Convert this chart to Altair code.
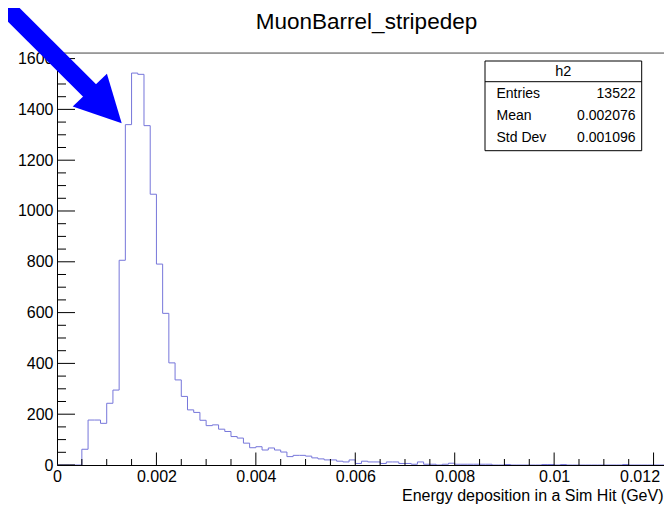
import altair as alt
import pandas as pd

FONT = "Liberation Sans, Arial, Helvetica, sans-serif"

# ---- data ----
bin_width = 0.000125
counts = [
    0, 0, 0, 0, 62, 177, 177, 164, 243, 295,            # 0-9
    806, 1340, 1543, 1538, 1336, 1066, 791, 597, 402, 335,  # 10-19
    270, 217, 207, 176, 155, 158, 141, 132, 112, 106,   # 20-29
    86, 68, 72, 59, 67, 59, 51, 33, 38, 38,             # 30-39
    35, 28, 24, 20, 20, 15, 12, 20, 6, 15,              # 40-49
    12, 12, 6, 12, 12, 6, 6, 3, 12, 3,                  # 50-59
    3, 0, 3, 7, 3, 3, 3, 3, 3, 3,                       # 60-69
    0, 0, 2, 0, 0, 0, 0, 0, 2, 2,                       # 70-79
    0, 2, 0, 0, 0, 0, 0, 0, 0, 0,                       # 80-89
    0, 2, 0, 0, 0, 0, 0, 0, 0, 0,                       # 90-99
]
x_tick_values = [0, 0.002, 0.004, 0.006, 0.008, 0.01, 0.012]
y_tick_values = [0, 200, 400, 600, 800, 1000, 1200, 1400, 1600]
x_minor_values = [0.0005, 0.001, 0.0015, 0.0025, 0.003, 0.0035, 0.0045, 0.005, 0.0055,
                  0.0065, 0.007, 0.0075, 0.0085, 0.009, 0.0095, 0.0105, 0.011, 0.0115]
y_minor_values = [v for v in range(50, 1601, 50) if v % 200]

title_text = "MuonBarrel_stripedep"
x_title = "Energy deposition in a Sim Hit (GeV)"
stats_name = "h2"
stat_labels = ["Entries", "Mean", "Std Dev"]
stat_values = ["13522", "0.002076", "0.001096"]

# arrow annotation (data units)
arrow_x = [-0.00135, 0.000744]
arrow_y = [1866, 1457]
arrow_head_x = [0.00066]
arrow_head_y = [1476]

# ---- layout ----
W, H = 607, 412
xscale = alt.Scale(domain=[0, 0.01221], nice=False, zero=False)
yscale = alt.Scale(domain=[0, 1622], nice=False, zero=False)

edges = [i * bin_width for i in range(len(counts) + 1)]
hist_df = pd.DataFrame({"x": edges, "y": counts + [counts[-1]]})

last_label = "datum.value > 0.0119"
x_axis = alt.Axis(values=x_tick_values, format="~g", labelFontSize=16, labelFont=FONT,
                  labelColor="black", labelPadding=3, labelBaseline="top", ticks=False,
                  labelAlign={"condition": {"test": last_label, "value": "right"}, "value": "center"},
                  labelOffset={"condition": {"test": last_label, "value": 6}, "value": 0},
                  tickSize=0, domainColor="black", domainWidth=1, grid=False,
                  labelFlush=False, labelOverlap=False, labelBound=False,
                  title=x_title, titleFontSize=16, titleFont=FONT, titleFontWeight="normal",
                  titleColor="black", titleAlign="right", titleBaseline="alphabetic",
                  titleAnchor="end", titleX=W - 1, titleY=35.5)
y_axis = alt.Axis(values=y_tick_values, format="d", labelFontSize=16, labelFont=FONT,
                  labelColor="black", labelPadding=4, ticks=False, tickSize=0,
                  domainColor="black", domainWidth=1, grid=False, labelFlush=False,
                  labelOverlap=False, labelBound=False, title=None)

X = lambda f: alt.X(f, scale=xscale, axis=x_axis)
Y = lambda f: alt.Y(f, scale=yscale, axis=y_axis)

hist = alt.Chart(hist_df).mark_line(interpolate="step-after", color="#7676da",
                                    strokeWidth=1, clip=True).encode(
    x=X("x:Q"), y=Y("y:Q"))

def vrule(values, length):
    return alt.Chart(pd.DataFrame({"v": values})).mark_rule(color="black", strokeWidth=1).encode(
        y=Y("v:Q"), x=alt.value(0), x2=alt.value(length))

def hrule(values, length):
    return alt.Chart(pd.DataFrame({"v": values})).mark_rule(color="black", strokeWidth=1, clip=True).encode(
        x=X("v:Q"), y=alt.value(H), y2=alt.value(H - length))

dummy = alt.Data(values=[{}])
top_line = alt.Chart(dummy).mark_rule(color="#555555", strokeWidth=1).encode(
    x=alt.value(0), x2=alt.value(W + 20), y=alt.value(0))

title_mark = alt.Chart(dummy).mark_text(text=title_text, fontSize=22.5, font=FONT, color="black",
                                        align="center", baseline="alphabetic").encode(
    x=alt.value(309.5), y=alt.value(-24.5))

bx0, bx1, by0, by1, bdiv = 428, 584.7, 8, 97.7, 28.7
box = alt.Chart(dummy).mark_rect(fill="white", stroke="black", strokeWidth=1).encode(
    x=alt.value(bx0), x2=alt.value(bx1), y=alt.value(by0), y2=alt.value(by1))
divider = alt.Chart(dummy).mark_rule(color="black", strokeWidth=1).encode(
    x=alt.value(bx0), x2=alt.value(bx1), y=alt.value(bdiv))
texts = [alt.Chart(dummy).mark_text(text=stats_name, fontSize=14.5, font=FONT, color="black",
                                    align="center", baseline="middle").encode(
    x=alt.value((bx0 + bx1) / 2), y=alt.value(18.5))]
for i, (lab, val) in enumerate(zip(stat_labels, stat_values)):
    yy = 40.8 + i * 22
    texts.append(alt.Chart(dummy).mark_text(text=lab, fontSize=14, font=FONT, color="black",
                                            align="left", baseline="middle").encode(
        x=alt.value(439.5), y=alt.value(yy)))
    texts.append(alt.Chart(dummy).mark_text(text=val, fontSize=14, font=FONT, color="black",
                                            align="right", baseline="middle").encode(
        x=alt.value(578.5), y=alt.value(yy)))

shaft = alt.Chart(pd.DataFrame({"x": arrow_x, "y": arrow_y})).mark_line(
    color="#0000ff", strokeWidth=18, strokeCap="butt", clip=False).encode(
    x=X("x:Q"), y=Y("y:Q"))
head = alt.Chart(pd.DataFrame({"x": arrow_head_x, "y": arrow_head_y})).mark_point(
    shape="M0,-1L0.514,0L-0.514,0Z", size=8500, angle=136.2, filled=True,
    color="#0000ff", opacity=1, clip=False).encode(
    x=X("x:Q"), y=Y("y:Q"))

chart = alt.layer(
    hist, vrule(y_tick_values, 18), vrule(y_minor_values, 9),
    hrule(x_tick_values, 12.5), hrule(x_minor_values, 6),
    top_line, title_mark, box, divider, *texts, shaft, head,
).properties(
    width=W, height=H,
    autosize=alt.AutoSizeParams(type="none"),
    padding={"left": 49, "top": 45, "right": 0, "bottom": 39},
).configure_view(strokeWidth=0).configure(background="white")

chart.save("out.html", embed_options={"renderer": "svg", "actions": False})
